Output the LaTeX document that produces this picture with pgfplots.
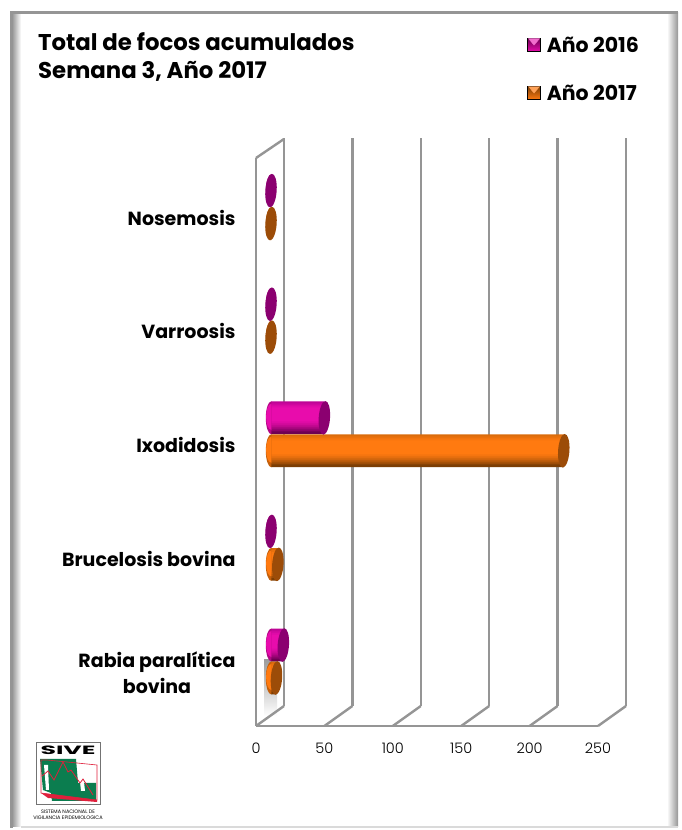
\documentclass[border=0pt]{standalone}
\usepackage{fontspec}
\setmainfont{Poppins}
\newfontfamily\lightf{Poppins Light}
\usepackage{pgfplots}
\usepackage{pgfplotstable}
\pgfplotsset{compat=1.18}
\definecolor{wall}{HTML}{959595}
\definecolor{magmid}{HTML}{E80CAC}
\definecolor{magedge}{HTML}{A8008A}
\definecolor{magdark}{HTML}{6E0054}
\definecolor{magcap}{HTML}{8B0070}
\definecolor{ormid}{HTML}{FF7A10}
\definecolor{oredge}{HTML}{C86408}
\definecolor{ordark}{HTML}{7C3E04}
\definecolor{orcap}{HTML}{9C4C08}
\definecolor{sivegreen}{HTML}{0B7D4F}
\definecolor{sivered}{HTML}{E0203C}

% cat: 0 Rabia ... 4 Nosemosis
\pgfplotstableread{
cat v16 v17
0   9   4
1   0   5
2   39  214
3   0   0
4   0   0
}\focos

% end caps of the cylinders
\pgfdeclareplotmark{capend}{%
  \pgfpathellipse{\pgfpointorigin}{\pgfqpoint{5.7pt}{0.3pt}}{\pgfqpoint{0.9pt}{16.8pt}}%
  \pgfusepathqfill}
% rounded left end: left half of an ellipse only
\pgfdeclareplotmark{startcap}{%
  \pgfpathmoveto{\pgfqpoint{0.3pt}{16.5pt}}%
  \pgfpatharc{90}{270}{5.5pt and 16.5pt}%
  \pgfpathclose
  \pgfusepathqfill}
\pgfdeclareplotmark{startin}{%
  \pgfpathmoveto{\pgfqpoint{0.3pt}{13pt}}%
  \pgfpatharc{90}{270}{5.2pt and 13pt}%
  \pgfpathclose
  \pgfusepathqfill}

% one cylinder body as thin stacked bars: column, centre shift, mid, edge, dark
\newcommand{\stripe}[4]{\addplot[forget plot,bar shift={#2pt+#3pt},bar width=2.6pt,draw=none,fill=#4] table[x=#1,y=cat] {\focos};}
\newcommand{\cyl}[5]{%
  \stripe{#1}{#2}{15}{#3!35!#4}
  \stripe{#1}{#2}{13}{#3!60!#4}
  \stripe{#1}{#2}{11}{#3!85!#4}
  \stripe{#1}{#2}{9}{#3}
  \stripe{#1}{#2}{7}{#3}
  \stripe{#1}{#2}{5}{#3}
  \stripe{#1}{#2}{3}{#3}
  \stripe{#1}{#2}{1}{#3}
  \stripe{#1}{#2}{-1}{#3}
  \stripe{#1}{#2}{-3}{#3}
  \stripe{#1}{#2}{-5}{#3!92!#5}
  \stripe{#1}{#2}{-7}{#3!80!#5}
  \stripe{#1}{#2}{-9}{#3!65!#5}
  \stripe{#1}{#2}{-11}{#3!45!#5}
  \stripe{#1}{#2}{-13}{#3!25!#5}
  \stripe{#1}{#2}{-15}{#5}
}

\begin{document}
\begin{tikzpicture}[x=1pt,y=1pt]
\path (0,0) rectangle (681,830);

% frame and title, in pixel coordinates from the top left
\begin{scope}[shift={(0,830)},yscale=-1]
  \fill[white] (10,12) rectangle (678,828);
  \shade[left color=wall,right color=white] (12,13) rectangle (21,827);
  \shade[left color=white,right color=wall] (667,13) rectangle (678,827);
  \fill[wall] (10,11) rectangle (678,14);
  \fill[wall] (10,11) rectangle (13,828);
  \fill[wall!35] (21,826) rectangle (678,828);
  \shade[top color=black!48,bottom color=white,draw=none,opacity=.8] (264,660) rectangle (277,716);

  \node[anchor=north west,font=\bfseries\fontsize{22.8}{28}\selectfont,align=left,inner sep=0pt] at (38,32)
    {Total de focos acumulados\\Semana 3, Año 2017};

  % SIVE logo
  \draw[black!55,line width=.7pt,fill=white] (36,742) rectangle (100,804);
  \node[font=\bfseries\fontsize{12}{12}\selectfont,inner sep=0pt,xscale=2.1] at (68,750) {SIVE};
  \fill[sivegreen] (40,759) -- (76,759) -- (78,783) -- (96,783) -- (96,801) -- (52,801) -- (51,793) -- (43,790) -- cycle;
  \fill[white] (44,765) -- (48,765) -- (49,790) -- (46,790) -- cycle;
  \fill[white] (80,782) -- (84,782) -- (85,791) -- (81,791) -- cycle;
  \draw[sivered,line width=.6pt] (47,760) -- (97,765) -- (97,800) -- (41,793) -- (41,760) -- cycle;
  \draw[sivered,line width=.8pt] (42,776) -- (48,771) -- (54,780) -- (63,762) -- (68,772) -- (71,770) -- (80,783) -- (83,779) -- (93,795);
  \fill[sivered] (41,793) -- (97,800) -- (97,802) -- (48,798) -- cycle;
  \node[font=\fontsize{5}{6}\selectfont,align=center,inner sep=0pt] at (68,815) {SISTEMA NACIONAL DE\\VIGILANCIA EPIDEMIOLOGICA};
\end{scope}

% front plane: tick labels, category names, back wall grid
\begin{axis}[
  at={(256pt,104pt)}, anchor=south west,
  scale only axis, width=342pt, height=568pt,
  xmin=0, xmax=250, ymin=-0.5, ymax=4.5,
  axis x line=bottom, axis y line=left,
  axis line style={wall,line width=2.4pt,-},
  xtick={0,50,...,250}, ytick={0,1,2,3,4},
  yticklabels={{Rabia paralítica\\bovina},Brucelosis bovina,Ixodidosis,Varroosis,Nosemosis},
  major tick length=0pt,
  xmajorgrids,
  x grid style={wall,line width=2.4pt,xshift=28pt,yshift=20pt},
  /pgf/number format/assume math mode=true,
  xticklabel style={font=\lightf\fontsize{14.5}{14.5}\selectfont,yshift=-13pt},
  yticklabel style={font=\bfseries\fontsize{19}{26}\selectfont,align=center,xshift=-17pt,yshift=-3pt},
  clip=false,
]
\pgfplotsinvokeforeach{0,50,...,250}{
  \draw[wall,line width=2.4pt] (axis cs:#1,-0.5) -- ++(28pt,20pt);
}
\draw[wall,line width=2.4pt] (axis cs:0,4.5) -- ++(28pt,19pt);
\end{axis}

% bars, set back into the depth of the chart
\begin{axis}[
  at={(271pt,111.7pt)}, anchor=south west,
  scale only axis, width=342pt, height=568pt,
  xmin=0, xmax=250, ymin=-0.5, ymax=4.5,
  axis lines=none, clip=false,
  xbar,
  legend style={at={(0.749,1.143)},anchor=west,draw=none,fill=none,
    font=\bfseries\fontsize{20.5}{24}\selectfont,row sep=27pt,
    legend cell align=left,inner sep=0pt},
]
% 2016 cylinder
\addplot[forget plot,only marks,mark=startcap,mark options={fill=magmid!55!magdark,draw=none}]
  table[x expr=0,y expr=\thisrow{cat}+0.145] {\focos};
\addplot[forget plot,only marks,mark=startin,mark options={fill=magmid,draw=none,yshift=1pt}]
  table[x expr=0,y expr=\thisrow{cat}+0.145] {\focos};
\cyl{v16}{16.5}{magmid}{magedge}{magdark}
\addplot[forget plot,only marks,mark=capend,mark options={fill=magcap,draw=none}]
  table[x=v16,y expr=\thisrow{cat}+0.145] {\focos};
% 2017 cylinder
\addplot[forget plot,only marks,mark=startcap,mark options={fill=ormid!55!ordark,draw=none}]
  table[x expr=0,y expr=\thisrow{cat}-0.145] {\focos};
\addplot[forget plot,only marks,mark=startin,mark options={fill=ormid,draw=none,yshift=1pt}]
  table[x expr=0,y expr=\thisrow{cat}-0.145] {\focos};
\cyl{v17}{-16.5}{ormid}{oredge}{ordark}
\addplot[forget plot,only marks,mark=capend,mark options={fill=orcap,draw=none}]
  table[x=v17,y expr=\thisrow{cat}-0.145] {\focos};
\addlegendimage{legend image code/.code={
    \shade[top color=magdark,bottom color=magmid] (0pt,-6.5pt) rectangle (13pt,6.5pt);
    \fill[magmid!60!white] (1pt,6.5pt) -- (12pt,6.5pt) -- (6.5pt,0pt) -- cycle;}}
\addlegendentry{\hspace{4pt}Año 2016}
\addlegendimage{legend image code/.code={
    \shade[top color=ordark,bottom color=ormid] (0pt,-6.5pt) rectangle (13pt,6.5pt);
    \fill[ormid!70!white] (1pt,6.5pt) -- (12pt,6.5pt) -- (6.5pt,0pt) -- cycle;}}
\addlegendentry{\hspace{4pt}Año 2017}
\end{axis}
\end{tikzpicture}
\end{document}
